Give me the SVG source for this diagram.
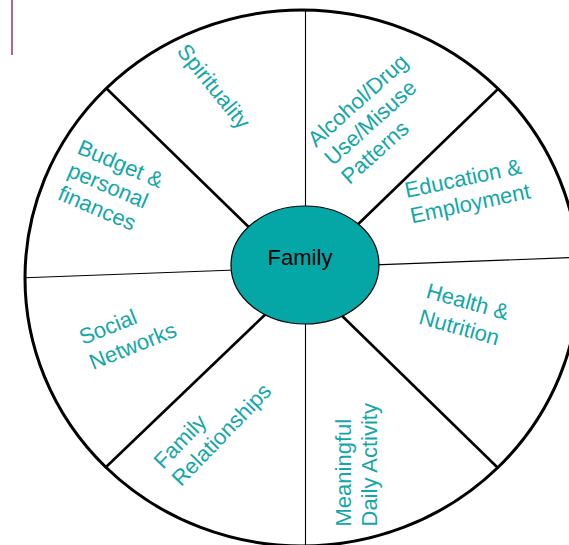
<svg xmlns="http://www.w3.org/2000/svg" width="569" height="545" viewBox="0 0 569 545">
<style>
.lbl{font-family:"Liberation Sans",Arial,sans-serif;font-size:22px;fill:#14A7A7}
.thin{stroke:#000;stroke-width:1.1;fill:none}
.spoke{stroke:#000;stroke-width:2.6;fill:none}
</style>
<rect width="569" height="545" fill="#fff"/>
<line x1="12" y1="0" x2="12" y2="55" stroke="#993366" stroke-width="1.5"/>
<g id="wheel">
<ellipse cx="302" cy="278" rx="277" ry="268" fill="#fff" stroke="#000" stroke-width="3"/>
</g>
<g id="connectors">
<line class="thin" x1="305.5" y1="10" x2="305.5" y2="546"/>
<line class="thin" x1="25" y1="277.8" x2="579" y2="257.3"/>
<line class="spoke" x1="106" y1="88" x2="262" y2="240"/>
<line class="spoke" x1="498" y1="89" x2="350" y2="232"/>
<line class="spoke" x1="105" y1="468" x2="272" y2="308"/>
<line class="spoke" x1="498" y1="468" x2="334" y2="308"/>
</g>
<g id="family">
<ellipse cx="305" cy="265" rx="74" ry="59" fill="#04A6A6" stroke="#000" stroke-width="1.2"/>
<text x="300" y="265" text-anchor="middle" font-family="Liberation Sans,Arial,sans-serif" font-size="22" fill="#000">Family</text>
</g>
<g id="spirituality">
<text class="lbl" text-anchor="middle" transform="translate(208,91) rotate(51)">Spirituality</text>
</g>
<g id="alcohol">
<text class="lbl" transform="translate(316,148) rotate(-42)"><tspan x="0" y="0">Alcohol/Drug</tspan><tspan x="0" y="25">Use/Misuse</tspan><tspan x="0" y="50">Patterns</tspan></text>
</g>
<g id="education">
<text class="lbl" transform="translate(406.5,198) rotate(-12)"><tspan x="0" y="0">Education &amp;</tspan><tspan x="0" y="26">Employment</tspan></text>
</g>
<g id="health">
<text class="lbl" transform="translate(425,297.5) rotate(15.5)"><tspan x="0" y="0">Health &amp;</tspan><tspan x="0" y="27">Nutrition</tspan></text>
</g>
<g id="meaningful">
<text class="lbl" transform="translate(350.5,526.5) rotate(-90)"><tspan x="0" y="0">Meaningful</tspan><tspan x="0" y="26">Daily Activity</tspan></text>
</g>
<g id="relationships">
<text class="lbl" transform="translate(163,470) rotate(-46)"><tspan x="0" y="0">Family</tspan><tspan x="0" y="25">Relationships</tspan></text>
</g>
<g id="social">
<text class="lbl" transform="translate(83,345) rotate(-22)"><tspan x="0" y="0">Social</tspan><tspan x="0" y="27">Networks</tspan></text>
</g>
<g id="budget">
<text class="lbl" transform="translate(76,153) rotate(23)"><tspan x="0" y="0">Budget &amp;</tspan><tspan x="0" y="25">personal</tspan><tspan x="0" y="50">finances</tspan></text>
</g>
</svg>
